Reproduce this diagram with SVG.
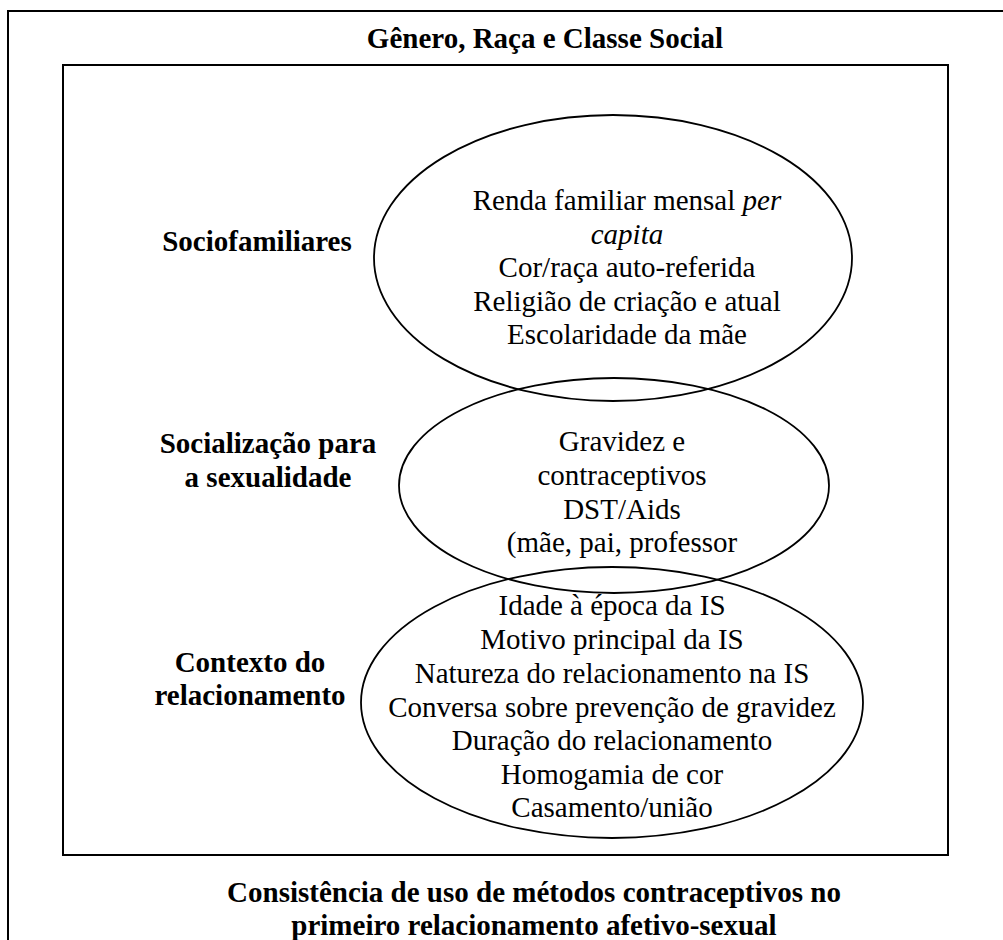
<svg xmlns="http://www.w3.org/2000/svg" width="1003" height="940" viewBox="0 0 1003 940">
<style>
.frame{fill:none;stroke:#000;stroke-width:2}
.ell{fill:none;stroke:#000;stroke-width:1.8}
text{font-family:"Liberation Serif","Times New Roman",serif;font-size:29px;fill:#000;text-anchor:middle}
.b{font-weight:bold}
</style>
<rect id="outer" class="frame" x="8" y="11" width="1010" height="950"/>
<g id="title"><text class="b" x="545" y="48">Gênero, Raça e Classe Social</text></g>
<rect id="inner" class="frame" x="63" y="65" width="885" height="790"/>
<g id="connectors"></g>
<g id="ellipse-sociofamiliares">
<ellipse class="ell" cx="613" cy="258" rx="239" ry="143"/>
<text x="627" y="210">Renda familiar mensal <tspan font-style="italic">per</tspan></text>
<text x="627" y="243.5" font-style="italic">capita</text>
<text x="627" y="277">Cor/raça auto-referida</text>
<text x="627" y="310.5">Religião de criação e atual</text>
<text x="627" y="344">Escolaridade da mãe</text>
</g>
<g id="ellipse-socializacao">
<ellipse class="ell" cx="614" cy="485.5" rx="215" ry="107.5"/>
<text x="622" y="451">Gravidez e</text>
<text x="622" y="485">contraceptivos</text>
<text x="622" y="519">DST/Aids</text>
<text x="622" y="552">(mãe, pai, professor</text>
</g>
<g id="ellipse-contexto">
<ellipse class="ell" cx="612" cy="702.5" rx="251" ry="135.5"/>
<text x="612" y="615">Idade à época da IS</text>
<text x="612" y="649">Motivo principal da IS</text>
<text x="612" y="683">Natureza do relacionamento na IS</text>
<text x="612" y="717">Conversa sobre prevenção de gravidez</text>
<text x="612" y="750">Duração do relacionamento</text>
<text x="612" y="784">Homogamia de cor</text>
<text x="612" y="817">Casamento/união</text>
</g>
<g id="label-sociofamiliares"><text class="b" x="257" y="251">Sociofamiliares</text></g>
<g id="label-socializacao"><text class="b" x="268" y="453">Socialização para</text><text class="b" x="268" y="487">a sexualidade</text></g>
<g id="label-contexto"><text class="b" x="250" y="672">Contexto do</text><text class="b" x="250" y="705">relacionamento</text></g>
<g id="footer"><text class="b" x="534" y="902">Consistência de uso de métodos contraceptivos no</text><text class="b" x="534" y="935">primeiro relacionamento afetivo-sexual</text></g>
</svg>
